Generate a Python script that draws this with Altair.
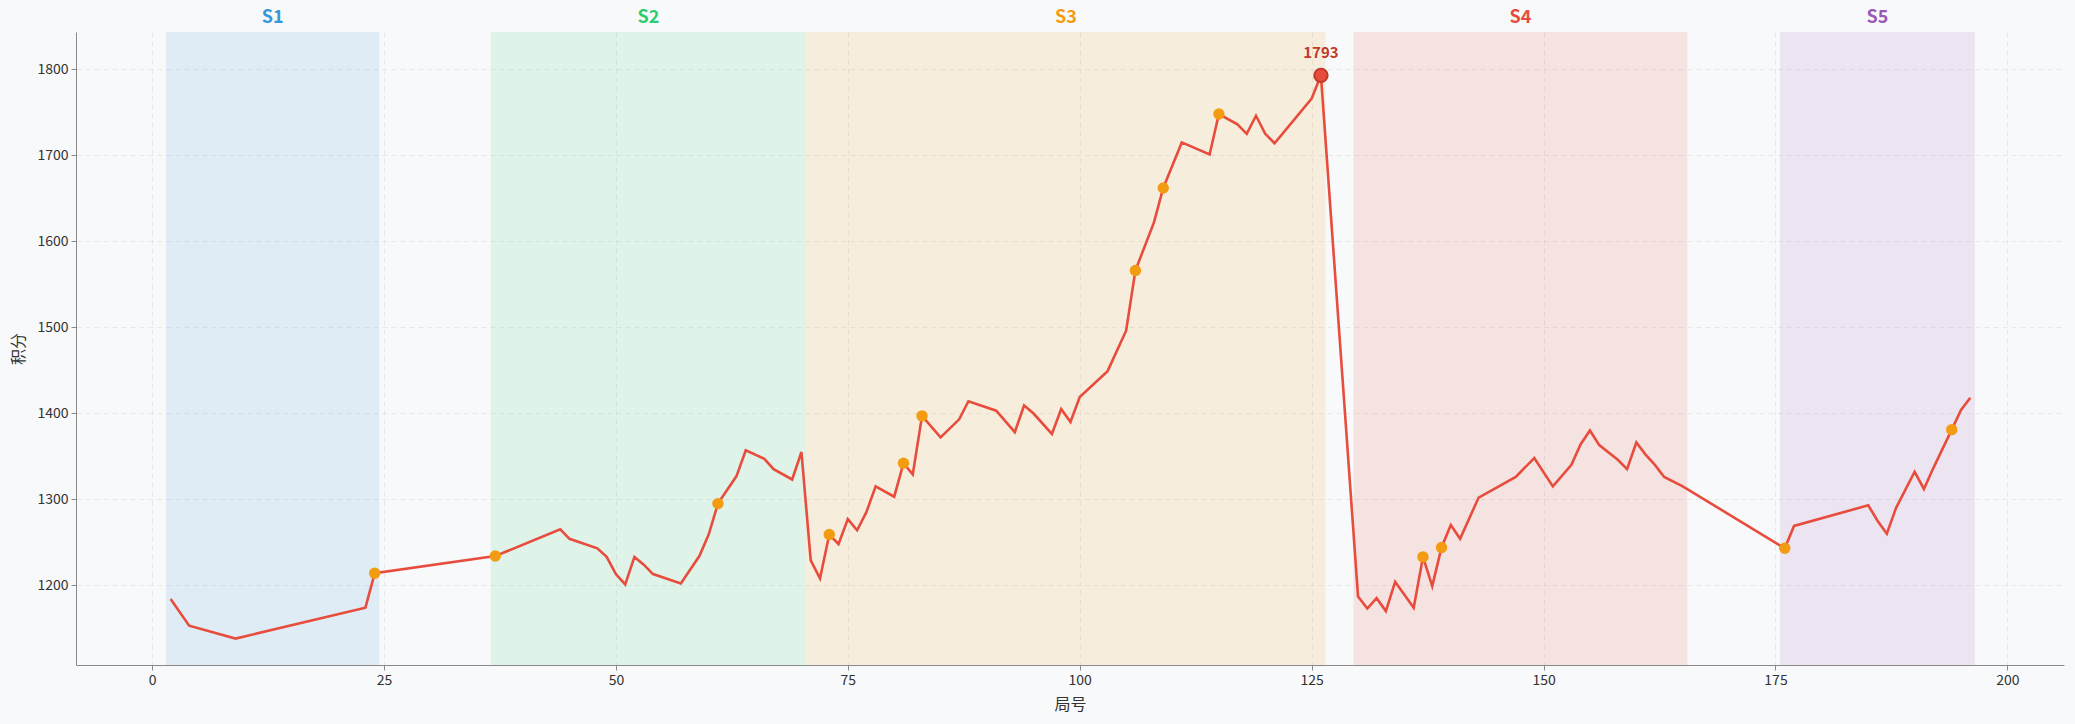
import altair as alt
import pandas as pd

# ---- data ----
games = [2, 4, 9, 23, 24, 37, 44, 45, 48, 49, 50, 51, 52, 53, 54, 57, 59, 60, 61, 63,
         64, 66, 67, 69, 70, 71, 72, 73, 74, 75, 76, 77, 78, 80, 81, 82, 83, 85, 87, 88,
         91, 93, 94, 95, 97, 98, 99, 100, 103, 105, 106, 108, 109, 111, 114, 115, 117,
         118, 119, 120, 121, 125, 126, 130, 131, 132, 133, 134, 136, 137, 138, 139, 140,
         141, 143, 147, 149, 151, 153, 154, 155, 156, 158, 159, 160, 161, 162, 163, 165,
         176, 177, 185, 186, 187, 188, 190, 191, 192, 194, 195, 196]
scores = [1184, 1153, 1138, 1174, 1214, 1234, 1265, 1254, 1243, 1233, 1213, 1201, 1233,
          1224, 1213, 1202, 1234, 1259, 1295, 1327, 1357, 1347, 1335, 1323, 1355, 1229,
          1208, 1259, 1248, 1277, 1264, 1285, 1315, 1303, 1342, 1329, 1397, 1372, 1393,
          1414, 1403, 1378, 1409, 1400, 1376, 1405, 1390, 1419, 1449, 1496, 1566, 1622,
          1662, 1715, 1701, 1748, 1736, 1725, 1746, 1725, 1714, 1766, 1793, 1187, 1173,
          1185, 1170, 1204, 1174, 1233, 1199, 1244, 1270, 1254, 1302, 1326, 1348, 1315,
          1340, 1364, 1380, 1363, 1346, 1335, 1366, 1352, 1340, 1326, 1315, 1243, 1269,
          1293, 1275, 1260, 1290, 1332, 1312, 1336, 1381, 1404, 1418]
highlight_games = [24, 37, 61, 73, 81, 83, 106, 109, 115, 137, 139, 176, 194]
peak_game = 126
peak_score = 1793

seasons = ["S1", "S2", "S3", "S4", "S5"]
season_start = [1.5, 36.5, 70.5, 129.5, 175.5]
season_end = [24.5, 70.5, 126.5, 165.5, 196.5]
season_colors = ["#3498db", "#2ecc71", "#f39c12", "#e74c3c", "#9b59b6"]

x_ticks = [0, 25, 50, 75, 100, 125, 150, 175, 200]
y_ticks = [1200, 1300, 1400, 1500, 1600, 1700, 1800]

# ---- tables ----
df = pd.DataFrame({"game": games, "score": scores})
score_map = dict(zip(games, scores))
hl = pd.DataFrame({"game": highlight_games,
                   "score": [score_map[g] for g in highlight_games]})
peak = pd.DataFrame({"game": [peak_game], "score": [peak_score],
                     "label": [str(peak_score)]})
spans = pd.DataFrame({"season": seasons, "start": season_start, "end": season_end})
spans["mid"] = (spans["start"] + spans["end"]) / 2

W, H = 1988, 633
FONT = "Noto Sans CJK SC"

xscale = alt.Scale(domain=[-8.2, 206.1], nice=False, zero=False)
yscale = alt.Scale(domain=[1107.3, 1843.4], nice=False, zero=False)
xaxis = alt.Axis(values=x_ticks, title="局号", titlePadding=9, format="d")
yaxis = alt.Axis(values=y_ticks, title="积分", titlePadding=10, format="d")
cscale = alt.Scale(domain=seasons, range=season_colors)


def X(field):
    return alt.X(field, type="quantitative", scale=xscale, axis=xaxis)


def Y(field):
    return alt.Y(field, type="quantitative", scale=yscale, axis=yaxis)


span_rects = alt.Chart(spans).mark_rect(opacity=0.12).encode(
    x=X("start"), x2="end",
    y=alt.value(0), y2=alt.value(H),
    color=alt.Color("season:N", scale=cscale, legend=None),
)

span_labels = alt.Chart(spans).mark_text(
    font=FONT, fontSize=18, fontWeight="bold", baseline="middle", align="center"
).encode(
    x=X("mid"), y=alt.value(-14), text="season:N",
    color=alt.Color("season:N", scale=cscale, legend=None),
)

line = alt.Chart(df).mark_line(color="#e74c3c", strokeWidth=2.6).encode(
    x=X("game"), y=Y("score")
)

points = alt.Chart(hl).mark_circle(size=130, color="#f39c12", opacity=1).encode(
    x=X("game"), y=Y("score")
)

peak_pt = alt.Chart(peak).mark_point(
    filled=True, size=180, fill="#e74c3c", stroke="#c0392b", strokeWidth=2, opacity=1
).encode(x=X("game"), y=Y("score"))

peak_lbl = alt.Chart(peak).mark_text(
    font=FONT, fontSize=15, fontWeight="bold", color="#c0392b", dy=-22, baseline="middle"
).encode(x=X("game"), y=Y("score"), text="label:N")

chart = alt.layer(span_rects, span_labels, line, points, peak_pt, peak_lbl).properties(
    width=W, height=H,
    autosize=alt.AutoSizeParams(type="none"),
    padding={"left": 76, "top": 32, "right": 11, "bottom": 59},
    background="#f8f9fa",
).configure_view(stroke=None, fill="#f8f9fa").configure_axis(
    labelFont=FONT, labelFontSize=14, labelColor="#333333",
    titleFont=FONT, titleFontSize=16, titleFontWeight="normal", titleColor="#333333",
    domainColor="#8a8a8a", tickColor="#8a8a8a", tickSize=5,
    gridColor="#dcdcdc", gridDash=[5, 4], gridOpacity=0.6, labelPadding=3,
)

chart.save("out.html", embed_options={"renderer": "svg", "actions": False})
